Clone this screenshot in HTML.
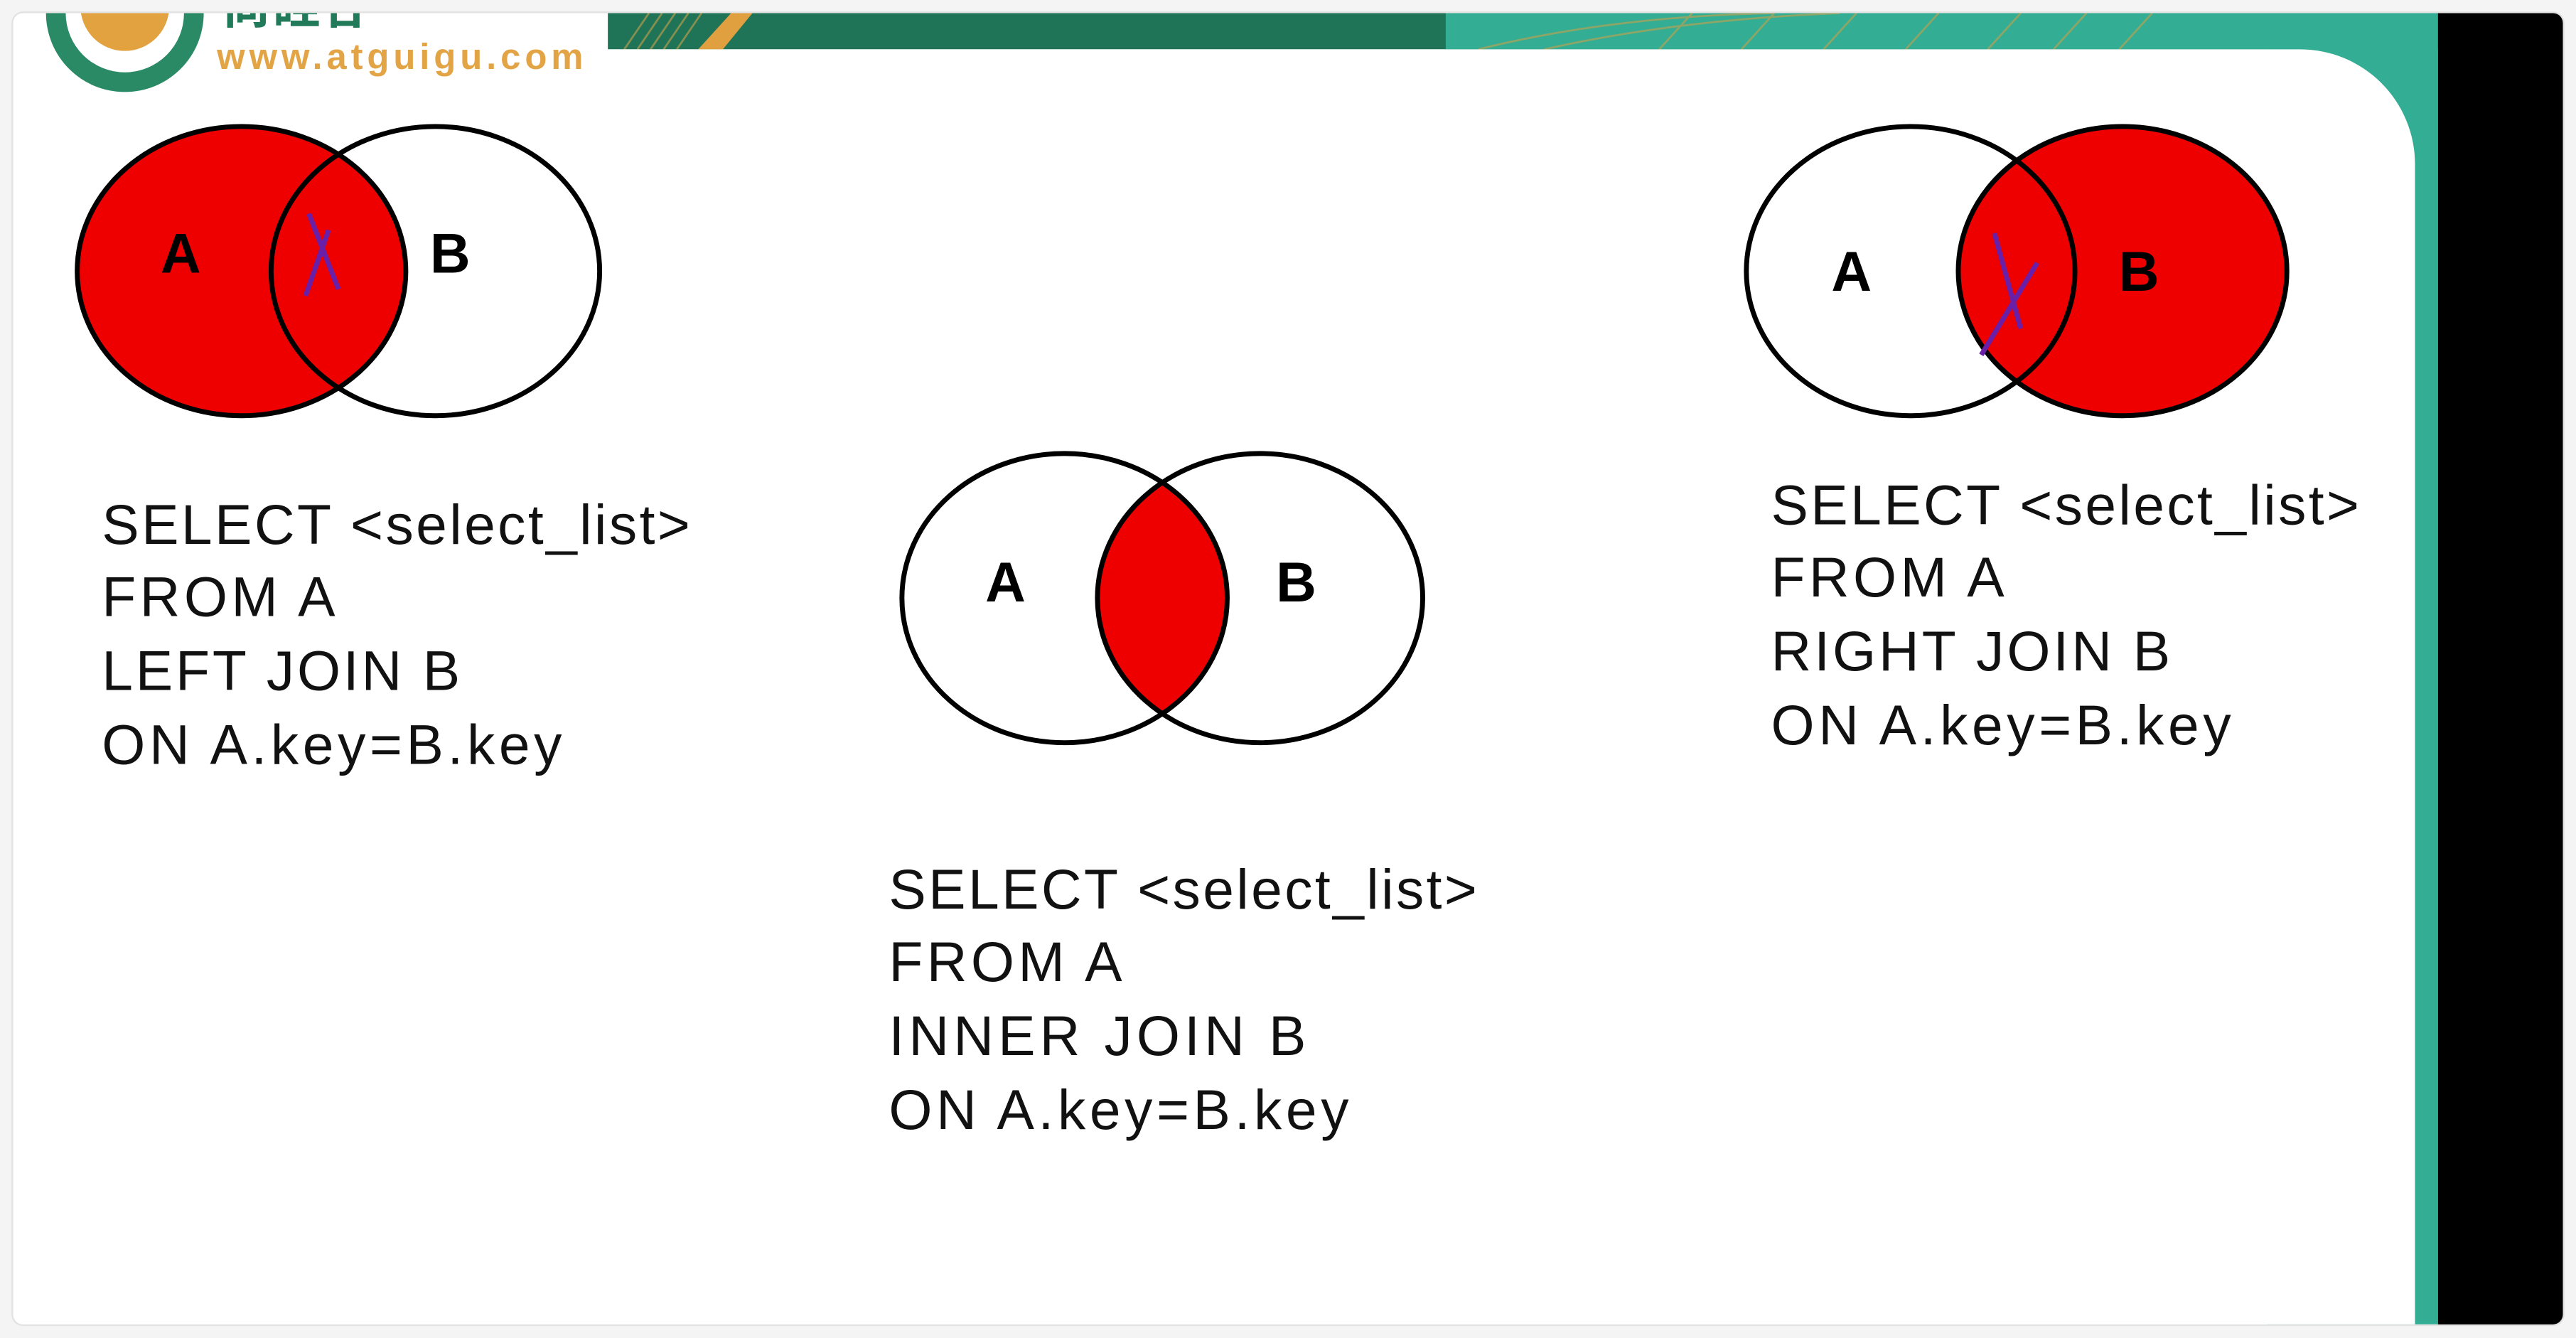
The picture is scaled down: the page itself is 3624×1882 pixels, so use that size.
<!DOCTYPE html>
<html><head><meta charset="utf-8"><style>
html,body{margin:0;padding:0;background:#f4f4f4;}
svg{display:block;}
text{font-family:"Liberation Sans","Noto Sans CJK SC",sans-serif;}
</style></head><body>
<svg width="3624" height="1882" viewBox="0 0 1568 814.3" preserveAspectRatio="none">
<defs>
<clipPath id="card"><rect x="8" y="8" width="1552" height="798" rx="6"/></clipPath>
<clipPath id="clipA1"><ellipse cx="147" cy="165" rx="100" ry="88"/></clipPath>
<clipPath id="clipA2"><ellipse cx="648" cy="364" rx="99" ry="88"/></clipPath>
<clipPath id="clipB3"><ellipse cx="1292" cy="165" rx="100" ry="88"/></clipPath>
</defs>
<rect x="7" y="7" width="1554" height="800" rx="7" fill="#e2e2e2"/>
<g clip-path="url(#card)">
<rect x="8" y="8" width="1552" height="798" fill="#ffffff"/>
<!-- header band -->
<rect x="370" y="8" width="1114" height="22" fill="#1f7458"/>
<rect x="880" y="8" width="604" height="22" fill="#33ad93"/>
<rect x="1380" y="8" width="104" height="798" fill="#33ad93"/>
<g stroke="#c9a24a" stroke-width="1.2" opacity="0.6" fill="none">
<path d="M380 30 L395 8 M388 30 L403 8 M396 30 L411 8 M404 30 L419 8 M412 30 L427 8"/>
<path d="M900 30 Q980 10 1080 8 M940 30 Q1020 12 1120 8 M1010 30 L1030 8 M1060 30 L1080 8 M1110 30 L1130 8 M1160 30 L1180 8 M1210 30 L1230 8 M1250 30 L1270 8 M1290 30 L1310 8"/>
</g>
<path d="M425 30 L445 8 L458 8 L440 30Z" fill="#e0a040"/>
<path d="M8 30 H1400 A70 70 0 0 1 1470 100 V806 H8Z" fill="#ffffff"/>
<rect x="1484" y="8" width="80" height="800" fill="#000"/>
<!-- logo -->
<circle cx="76" cy="8" r="48" fill="#2a8a66"/>
<circle cx="76" cy="8" r="36" fill="#fff"/>
<circle cx="76" cy="4" r="27" fill="#e2a240"/>
<text x="135" y="14" font-size="30" font-weight="bold" fill="#217a5a">尚硅谷</text>
<text x="132" y="42" font-size="22" font-weight="bold" fill="#e2a444" textLength="223">www.atguigu.com</text>
</g>

<!-- LEFT JOIN venn -->
<g>
<ellipse cx="147" cy="165" rx="100" ry="88" fill="#ee0000"/>
<ellipse cx="147" cy="165" rx="100" ry="88" fill="none" stroke="#000" stroke-width="3"/>
<ellipse cx="265" cy="165" rx="100" ry="88" fill="#fff" fill-opacity="0" stroke="#000" stroke-width="3"/>
<path d="M165 165" />
<text x="110" y="166" font-size="34" font-weight="bold" text-anchor="middle">A</text>
<text x="274" y="166" font-size="34" font-weight="bold" text-anchor="middle">B</text>
<path d="M188 130 L206 176 M200 140 L186 180" stroke="#6a1fa8" stroke-width="3" fill="none"/>
</g>
<!-- INNER JOIN venn -->
<g>
<ellipse cx="767" cy="364" rx="99" ry="88" fill="#ee0000" clip-path="url(#clipA2)"/>
<ellipse cx="648" cy="364" rx="99" ry="88" fill="none" stroke="#000" stroke-width="3"/>
<ellipse cx="767" cy="364" rx="99" ry="88" fill="none" stroke="#000" stroke-width="3"/>
<text x="612" y="366" font-size="34" font-weight="bold" text-anchor="middle">A</text>
<text x="789" y="366" font-size="34" font-weight="bold" text-anchor="middle">B</text>
</g>
<!-- RIGHT JOIN venn -->
<g>
<ellipse cx="1292" cy="165" rx="100" ry="88" fill="#ee0000"/>
<ellipse cx="1163" cy="165" rx="100" ry="88" fill="none" stroke="#000" stroke-width="3"/>
<ellipse cx="1292" cy="165" rx="100" ry="88" fill="none" stroke="#000" stroke-width="3"/>
<text x="1127" y="177" font-size="34" font-weight="bold" text-anchor="middle">A</text>
<text x="1302" y="177" font-size="34" font-weight="bold" text-anchor="middle">B</text>
<path d="M1214 142 L1230 200 M1240 160 L1206 216" stroke="#6a1fa8" stroke-width="3" fill="none"/>
</g>

<!-- SQL text -->
<g font-size="34" fill="#111">
<text x="62" y="331" textLength="358">SELECT &lt;select_list&gt;</text>
<text x="62" y="375" textLength="142">FROM A</text>
<text x="62" y="420" textLength="218">LEFT JOIN B</text>
<text x="62" y="465" textLength="280">ON  A.key=B.key</text>
</g>
<g font-size="34" fill="#111">
<text x="541" y="553" textLength="358">SELECT &lt;select_list&gt;</text>
<text x="541" y="597" textLength="142">FROM A</text>
<text x="541" y="642" textLength="254">INNER  JOIN B</text>
<text x="541" y="687" textLength="280">ON  A.key=B.key</text>
</g>
<g font-size="34" fill="#111">
<text x="1078" y="319" textLength="358">SELECT &lt;select_list&gt;</text>
<text x="1078" y="363" textLength="142">FROM A</text>
<text x="1078" y="408" textLength="243">RIGHT JOIN B</text>
<text x="1078" y="453" textLength="280">ON  A.key=B.key</text>
</g>
</svg>
</body></html>
